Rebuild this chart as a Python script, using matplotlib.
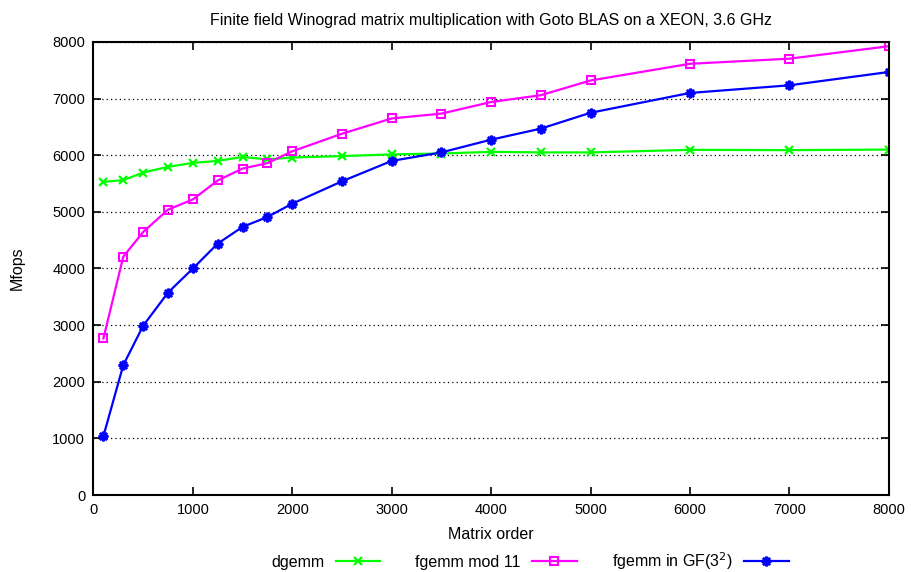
import matplotlib
matplotlib.use("Agg")
import matplotlib.pyplot as plt

plt.rcParams['font.family'] = ['Liberation Sans', 'DejaVu Sans']

# 矩阵阶数
order = [100, 300, 500, 750, 1000, 1250, 1500, 1750, 2000, 2500,
         3000, 3500, 4000, 4500, 5000, 6000, 7000, 8000]

dgemm = [5530, 5560, 5695, 5795, 5865, 5900, 5970, 5925, 5960, 5985,
         6015, 6030, 6060, 6050, 6050, 6095, 6090, 6100]
fgemm_mod11 = [2765, 4210, 4645, 5040, 5220, 5555, 5765, 5860, 6070, 6380,
               6650, 6735, 6940, 7060, 7320, 7615, 7705, 7925]
fgemm_gf9 = [1040, 2295, 2990, 3575, 4000, 4440, 4735, 4910, 5145, 5540,
             5900, 6050, 6275, 6470, 6750, 7100, 7235, 7470]

xticks = list(range(0, 8001, 1000))
yticks = list(range(0, 8001, 1000))

fig = plt.figure(figsize=(9.12, 5.72), dpi=100)
ax = fig.add_axes([0.1025, 0.1346, 0.872, 0.792])

ax.plot(order, dgemm, color='#00ff00', lw=1.6, marker='x', ms=6, mew=1.6,
        label='dgemm')
ax.plot(order, fgemm_mod11, color='#ff00ff', lw=1.6, marker='s', ms=6, mew=1.5,
        mfc='none', label='fgemm mod 11')
ax.plot(order, fgemm_gf9, color='#0000ff', lw=1.6, marker=(8, 2, 0), ms=7, mew=1.8,
        label='fgemm in GF(3$^2$)')

ax.set_xlim(0, 8000)
ax.set_ylim(0, 8000)
ax.set_xticks(xticks)
ax.set_yticks(yticks)
ax.tick_params(direction='in', length=6, width=1.2, top=True, right=True,
               labelsize=10.5, pad=6)
ax.yaxis.grid(True, linestyle=(0, (1, 2.5)), color='black', lw=0.9)
for s in ax.spines.values():
    s.set_linewidth(1.5)

ax.set_title("Finite field Winograd matrix multiplication with Goto BLAS on a XEON, 3.6 GHz",
             fontsize=11.5, pad=12)
ax.set_xlabel("Matrix order", fontsize=11.5, labelpad=7)
ax.set_ylabel("Mfops", fontsize=11.5, labelpad=20)

fig.legend(loc='center', bbox_to_anchor=(0.581, 0.019), ncol=3, frameon=False,
           markerfirst=False, handlelength=2.8, columnspacing=2.2,
           fontsize=11.5, handletextpad=0.7)

fig.savefig("out.png", dpi=100)
